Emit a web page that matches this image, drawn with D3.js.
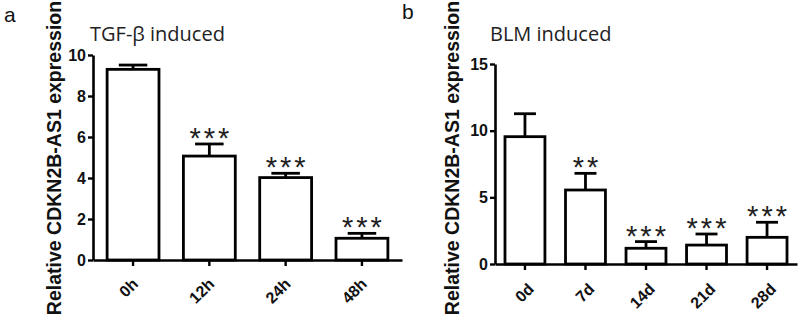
<!DOCTYPE html>
<html>
<head>
<meta charset="utf-8">
<script src="https://cdn.jsdelivr.net/npm/d3@7"></script>
<style>
  html, body { margin: 0; padding: 0; background: #fff; }
  svg { display: block; }
  .tick text { font-family: "Liberation Sans", Arial, sans-serif; font-weight: bold; font-size: 16px; fill: #111; }
</style>
</head>
<body>
<script>
// panel a: TGF-beta induced
const catsA = ['0h', '12h', '24h', '48h'];
const meanA = [9.3, 5.07, 4.02, 1.06];
const errA = [0.21, 0.59, 0.21, 0.24];
const sigA = ['', '***', '***', '***'];
const ticksA = [0, 2, 4, 6, 8, 10];

// panel b: BLM induced
const catsB = ['0d', '7d', '14d', '21d', '28d'];
const meanB = [9.55, 5.55, 1.18, 1.42, 2.0];
const errB = [1.72, 1.25, 0.5, 0.83, 1.13];
const sigB = ['', '**', '***', '***', '***'];
const ticksB = [0, 5, 10, 15];

const yLabel = 'Relative CDKN2B-AS1 expression';

const svg = d3.select('body').append('svg')
  .attr('width', 800)
  .attr('height', 319);

function drawPanel(p) {
  const g = svg.append('g');
  const data = p.cats.map((c, i) => ({ cat: c, mean: p.mean[i], err: p.err[i], sig: p.sig[i] }));

  const x = d3.scaleBand()
    .domain(p.cats)
    .range([p.left, p.right])
    .paddingInner(p.padIn)
    .paddingOuter(p.padOut);
  const y = d3.scaleLinear()
    .domain([0, d3.max(p.ticks)])
    .range([p.bottom, p.top]);

  // bars
  g.selectAll('rect.bar')
    .data(data)
    .enter().append('rect')
    .attr('class', 'bar')
    .attr('x', d => x(d.cat))
    .attr('y', d => y(d.mean))
    .attr('width', x.bandwidth())
    .attr('height', d => y(0) - y(d.mean))
    .attr('fill', '#fff')
    .attr('stroke', '#000')
    .attr('stroke-width', 2.8);

  // error bars (upper only)
  const cap = x.bandwidth() * 0.55;
  g.selectAll('line.err')
    .data(data)
    .enter().append('line')
    .attr('class', 'err')
    .attr('x1', d => x(d.cat) + x.bandwidth() / 2)
    .attr('x2', d => x(d.cat) + x.bandwidth() / 2)
    .attr('y1', d => y(d.mean))
    .attr('y2', d => y(d.mean + d.err))
    .attr('stroke', '#000')
    .attr('stroke-width', 2.8);
  g.selectAll('line.cap')
    .data(data)
    .enter().append('line')
    .attr('class', 'cap')
    .attr('x1', d => x(d.cat) + x.bandwidth() / 2 - cap / 2)
    .attr('x2', d => x(d.cat) + x.bandwidth() / 2 + cap / 2)
    .attr('y1', d => y(d.mean + d.err))
    .attr('y2', d => y(d.mean + d.err))
    .attr('stroke', '#000')
    .attr('stroke-width', 2.8);

  // significance stars
  g.selectAll('text.sig')
    .data(data.filter(d => d.sig))
    .enter().append('text')
    .attr('class', 'sig')
    .attr('x', d => x(d.cat) + x.bandwidth() / 2 + 1.5)
    .attr('y', d => y(d.mean + d.err) + 4)
    .attr('text-anchor', 'middle')
    .attr('font-family', '"Liberation Sans", Arial, sans-serif')
    .attr('font-size', 29)
    .attr('letter-spacing', 3)
    .attr('fill', '#222')
    .text(d => d.sig);

  // y axis
  const yAxis = g.append('g')
    .attr('transform', `translate(${p.left},0)`)
    .call(d3.axisLeft(y).tickValues(p.ticks).tickSize(5).tickSizeOuter(0).tickPadding(2));
  yAxis.select('.domain').attr('stroke-width', 2.6);
  yAxis.selectAll('.tick line').attr('stroke-width', 2.4);

  // x axis
  const xAxis = g.append('g')
    .attr('transform', `translate(0,${p.bottom})`)
    .call(d3.axisBottom(x).tickSize(6).tickSizeOuter(0));
  xAxis.select('.domain').attr('stroke-width', 2.6);
  xAxis.selectAll('.tick line').attr('stroke-width', 2.4);
  xAxis.selectAll('.tick text')
    .attr('text-anchor', 'end')
    .attr('dy', 0)
    .attr('y', 0)
    .attr('transform', `translate(${p.lblDx},${p.lblDy}) rotate(-45)`);

  // y label
  g.append('text')
    .attr('transform', `translate(${p.yLblX},${p.yLblY}) rotate(-90)`)
    .attr('text-anchor', 'middle')
    .attr('font-family', '"Liberation Sans", Arial, sans-serif')
    .attr('font-weight', 'bold')
    .attr('font-size', 19.5)
    .attr('fill', '#111')
    .text(yLabel);

  // title
  g.append('text')
    .attr('x', p.titleX)
    .attr('y', 41)
    .attr('font-family', '"Open Sans", sans-serif')
    .attr('font-size', 20)
    .attr('fill', '#222')
    .text(p.title);

  // panel letter
  g.append('text')
    .attr('x', p.letterX)
    .attr('y', p.letterY)
    .attr('font-family', '"Liberation Sans", Arial, sans-serif')
    .attr('font-size', 21)
    .attr('fill', '#111')
    .text(p.letter);
}

drawPanel({
  cats: catsA, mean: meanA, err: errA, sig: sigA, ticks: ticksA,
  left: 93, right: 402, top: 55, bottom: 260, padIn: 0.32, padOut: 0.185,
  lblDx: 6, lblDy: 25, yLblX: 61, yLblY: 158,
  title: 'TGF-β induced', titleX: 90, letter: 'a', letterX: 4, letterY: 22
});

drawPanel({
  cats: catsB, mean: meanB, err: errB, sig: sigB, ticks: ticksB,
  left: 495, right: 797, top: 64, bottom: 264, padIn: 0.34, padOut: 0.165,
  lblDx: 10, lblDy: 26, yLblX: 459, yLblY: 158,
  title: 'BLM induced', titleX: 490, letter: 'b', letterX: 402, letterY: 19
});
</script>
</body>
</html>
